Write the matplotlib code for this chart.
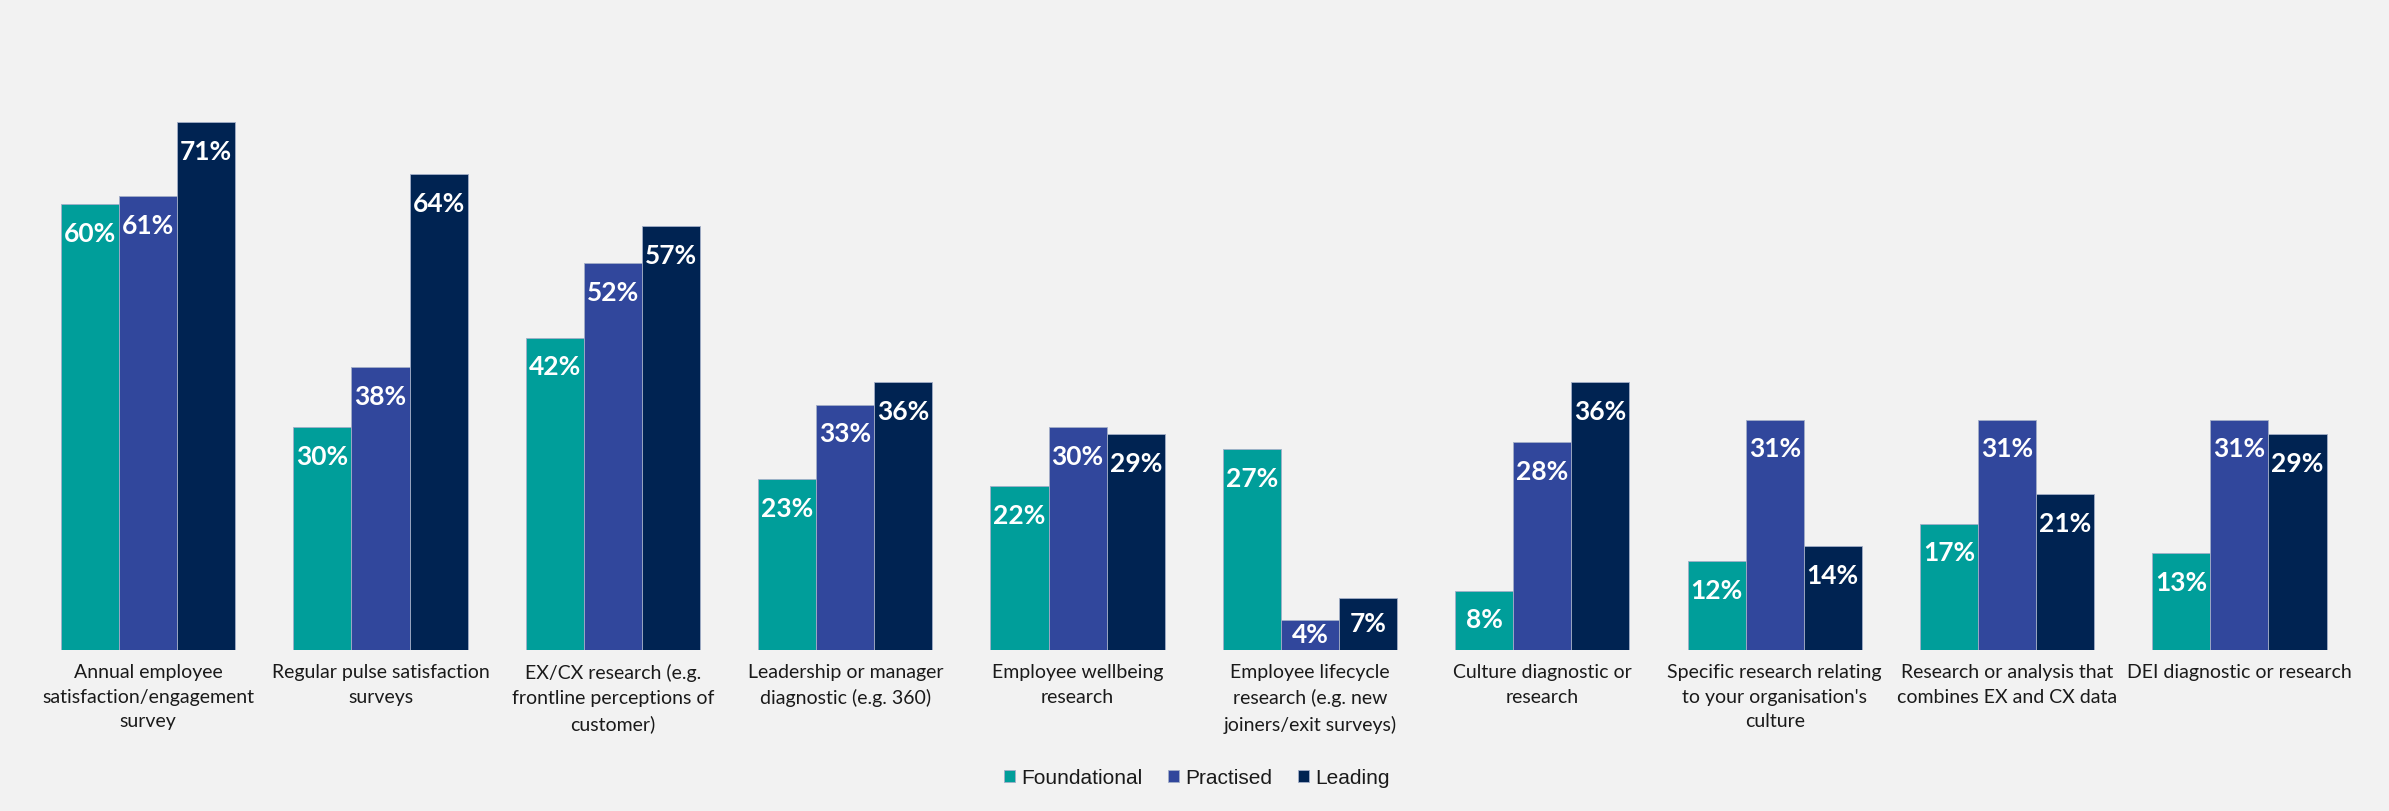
import matplotlib
matplotlib.use("Agg")
import matplotlib.pyplot as plt
import numpy as np

categories = [
    "Annual employee\nsatisfaction/engagement\nsurvey",
    "Regular pulse satisfaction\nsurveys",
    "EX/CX research (e.g.\nfrontline perceptions of\ncustomer)",
    "Leadership or manager\ndiagnostic (e.g. 360)",
    "Employee wellbeing\nresearch",
    "Employee lifecycle\nresearch (e.g. new\njoiners/exit surveys)",
    "Culture diagnostic or\nresearch",
    "Specific research relating\nto your organisation's\nculture",
    "Research or analysis that\ncombines EX and CX data",
    "DEI diagnostic or research",
]
series_names = ["Foundational", "Practised", "Leading"]
foundational = [60, 30, 42, 23, 22, 27, 8, 12, 17, 13]
practised = [61, 38, 52, 33, 30, 4, 28, 31, 31, 31]
leading = [71, 64, 57, 36, 29, 7, 36, 14, 21, 29]

colors = ["#009E9A", "#31479C", "#002352"]
bg = "#F2F2F2"

fig = plt.figure(figsize=(23.89, 8.11), dpi=100, facecolor=bg)
ax = fig.add_axes([0.0134, 0.1985, 0.9726, 0.7335], facecolor=bg)

x = np.arange(len(categories))
width = 0.25
series = [foundational, practised, leading]
for i, (name, vals, col) in enumerate(zip(series_names, series, colors)):
    pos = x + (i - 1) * width
    ax.bar(pos, vals, width, color=col, label=name,
           edgecolor="#A3AEC8", linewidth=0.6)
    for px, v in zip(pos, vals):
        yl = v - min(4.0, v / 2.0)
        ax.text(px, yl, f"{v}%", ha="center", va="center", color="white",
                fontsize=19, fontweight="bold", family="Lato")

ax.set_xlim(-0.5, len(categories) - 0.5)
ax.set_ylim(0, 80)
ax.set_yticks([])
ax.set_xticks(x)
ax.set_xticklabels(categories, fontsize=14, family="Lato", color="#1a1a1a",
                   linespacing=1.55, va="top")
ax.tick_params(axis="x", length=0, pad=10)
for s in ax.spines.values():
    s.set_visible(False)

leg = fig.legend(loc="center", bbox_to_anchor=(0.501, 1 - 778 / 811), ncol=3,
                 frameon=False, prop={"family": "Liberation Sans", "size": 15},
                 handlelength=0.55, handleheight=0.55, handletextpad=0.3,
                 columnspacing=1.2)
for t in leg.get_texts():
    t.set_color("#1a1a1a")

fig.savefig("out.png", dpi=100, facecolor=bg)
